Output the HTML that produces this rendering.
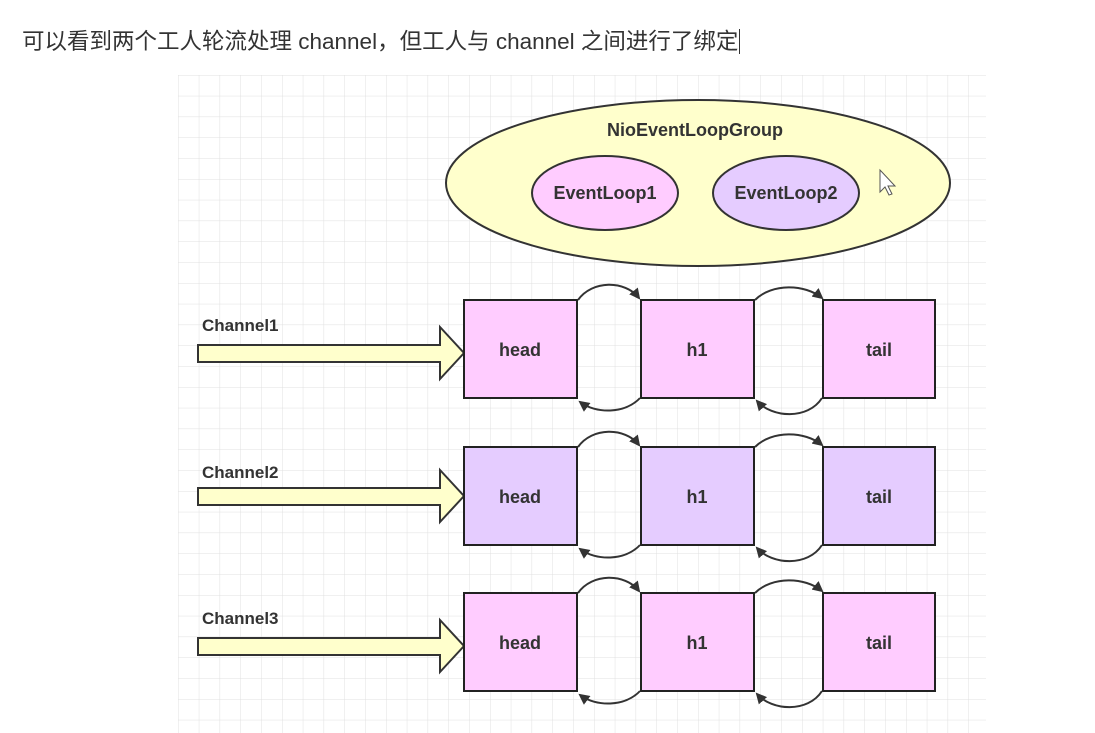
<!DOCTYPE html>
<html><head><meta charset="utf-8"><style>
html,body{margin:0;padding:0;background:#fff;width:1095px;height:733px;overflow:hidden}
.t{position:absolute;left:22px;top:24px;font-family:"Liberation Sans","Noto Sans CJK SC",sans-serif;font-size:22.5px;color:#333;white-space:nowrap}
</style></head><body>
<div class="t">可以看到两个工人轮流处理 channel，但工人与 channel 之间进行了绑定<span style="border-left:1.5px solid #333;margin-left:1px"></span></div>
<svg width="1095" height="733" style="position:absolute;left:0;top:0" font-family="Liberation Sans, sans-serif">
<defs>
<pattern id="g" x="178" y="75" width="20.8" height="20.8" patternUnits="userSpaceOnUse">
<path d="M0 0H20.8M0 0V20.8" stroke="#e0e0e0" stroke-width="1" fill="none"/>
</pattern>
<marker id="a" markerWidth="11" markerHeight="11" refX="9" refY="5.5" orient="auto" markerUnits="userSpaceOnUse">
<path d="M0,0 L11,5.5 L0,11 z" fill="#333"/>
</marker>
</defs>
<rect x="178" y="75" width="808" height="658" fill="url(#g)"/>
<ellipse cx="698" cy="183" rx="252" ry="83" fill="#ffffcc" stroke="#333" stroke-width="2"/>
<text x="695" y="136" text-anchor="middle" font-weight="bold" font-size="18" fill="#333">NioEventLoopGroup</text>
<ellipse cx="605" cy="193" rx="73" ry="37" fill="#ffccff" stroke="#333" stroke-width="2"/>
<text x="605" y="199" text-anchor="middle" font-weight="bold" font-size="18" fill="#333">EventLoop1</text>
<ellipse cx="786" cy="193" rx="73" ry="37" fill="#e5ccff" stroke="#333" stroke-width="2"/>
<text x="786" y="199" text-anchor="middle" font-weight="bold" font-size="18" fill="#333">EventLoop2</text>
<path d="M880,170 L880,192 L885,187 L889,195 L892,194 L888,186 L895,186 Z" fill="#fff" stroke="#555" stroke-width="1"/>

<g>
<text x="202" y="331" font-weight="bold" font-size="17" fill="#333">Channel1</text>
<path d="M198,345 H440 V327 L464,353 L440,379 V362 H198 Z" fill="#ffffcc" stroke="#333" stroke-width="2"/>
<rect x="464" y="300" width="113" height="98" fill="#ffccff" stroke="#222" stroke-width="2"/>
<rect x="641" y="300" width="113" height="98" fill="#ffccff" stroke="#222" stroke-width="2"/>
<rect x="823" y="300" width="112" height="98" fill="#ffccff" stroke="#222" stroke-width="2"/>
<text x="520" y="356" text-anchor="middle" font-weight="bold" font-size="18" fill="#333">head</text>
<text x="697" y="356" text-anchor="middle" font-weight="bold" font-size="18" fill="#333">h1</text>
<text x="879" y="356" text-anchor="middle" font-weight="bold" font-size="18" fill="#333">tail</text>
<g fill="none" stroke="#333" stroke-width="2">
<path d="M578,300 C592,280 625,280 639,298" marker-end="url(#a)"/>
<path d="M640,398 C625,414 596,414 580,402" marker-end="url(#a)"/>
<path d="M755,300 C772,283 805,284 822,298" marker-end="url(#a)"/>
<path d="M822,398 C808,420 772,418 757,401" marker-end="url(#a)"/>
</g>
</g>
<g transform="translate(0,147)">
<text x="202" y="331" font-weight="bold" font-size="17" fill="#333">Channel2</text>
<path d="M198,341 H440 V323 L464,349 L440,375 V358 H198 Z" fill="#ffffcc" stroke="#333" stroke-width="2"/>
<rect x="464" y="300" width="113" height="98" fill="#e5ccff" stroke="#222" stroke-width="2"/>
<rect x="641" y="300" width="113" height="98" fill="#e5ccff" stroke="#222" stroke-width="2"/>
<rect x="823" y="300" width="112" height="98" fill="#e5ccff" stroke="#222" stroke-width="2"/>
<text x="520" y="356" text-anchor="middle" font-weight="bold" font-size="18" fill="#333">head</text>
<text x="697" y="356" text-anchor="middle" font-weight="bold" font-size="18" fill="#333">h1</text>
<text x="879" y="356" text-anchor="middle" font-weight="bold" font-size="18" fill="#333">tail</text>
<g fill="none" stroke="#333" stroke-width="2">
<path d="M578,300 C592,280 625,280 639,298" marker-end="url(#a)"/>
<path d="M640,398 C625,414 596,414 580,402" marker-end="url(#a)"/>
<path d="M755,300 C772,283 805,284 822,298" marker-end="url(#a)"/>
<path d="M822,398 C808,420 772,418 757,401" marker-end="url(#a)"/>
</g>
</g>
<g transform="translate(0,293)">
<text x="202" y="331" font-weight="bold" font-size="17" fill="#333">Channel3</text>
<path d="M198,345 H440 V327 L464,353 L440,379 V362 H198 Z" fill="#ffffcc" stroke="#333" stroke-width="2"/>
<rect x="464" y="300" width="113" height="98" fill="#ffccff" stroke="#222" stroke-width="2"/>
<rect x="641" y="300" width="113" height="98" fill="#ffccff" stroke="#222" stroke-width="2"/>
<rect x="823" y="300" width="112" height="98" fill="#ffccff" stroke="#222" stroke-width="2"/>
<text x="520" y="356" text-anchor="middle" font-weight="bold" font-size="18" fill="#333">head</text>
<text x="697" y="356" text-anchor="middle" font-weight="bold" font-size="18" fill="#333">h1</text>
<text x="879" y="356" text-anchor="middle" font-weight="bold" font-size="18" fill="#333">tail</text>
<g fill="none" stroke="#333" stroke-width="2">
<path d="M578,300 C592,280 625,280 639,298" marker-end="url(#a)"/>
<path d="M640,398 C625,414 596,414 580,402" marker-end="url(#a)"/>
<path d="M755,300 C772,283 805,284 822,298" marker-end="url(#a)"/>
<path d="M822,398 C808,420 772,418 757,401" marker-end="url(#a)"/>
</g>
</g>
</svg>
</body></html>
